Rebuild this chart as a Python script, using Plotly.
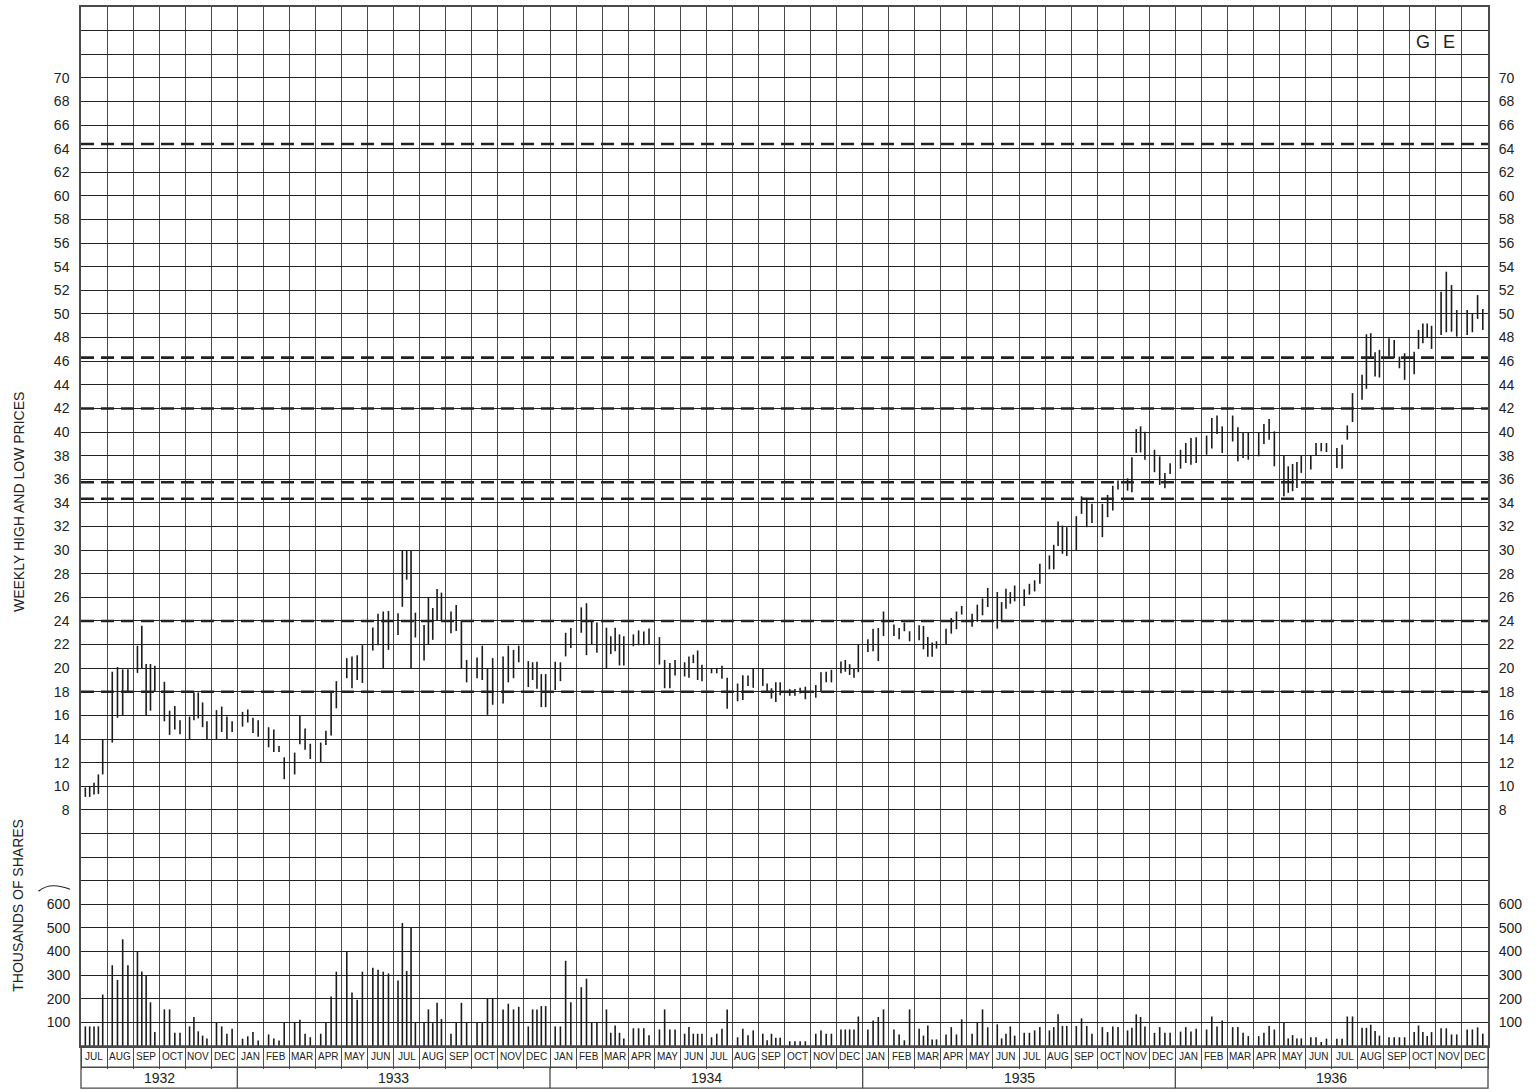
import plotly.graph_objects as go

# ---------------- data ----------------
MONTH_NAMES = ["JAN", "FEB", "MAR", "APR", "MAY", "JUN",
               "JUL", "AUG", "SEP", "OCT", "NOV", "DEC"]
MONTHS = MONTH_NAMES[6:] + MONTH_NAMES * 4          # Jul 1932 .. Dec 1936
YEARS = ["1932", "1933", "1934", "1935", "1936"]
YEAR_MONTHS = [6, 12, 12, 12, 12]
TICKER = ["G", "E"]
LEVELS = [64.4, 46.3, 42.0, 35.75, 34.35, 24.0, 18.0]   # dashed reference lines
PRICE_TICKS = list(range(8, 71, 2))
VOLUME_TICKS = [100, 200, 300, 400, 500, 600]

WEEKS_1932 = [5, 4, 5, 4, 5, 4]
HIGH_1932 = [9.9, 10.0, 10.3, 11.0, 14.0,
             19.7, 20.1, 19.9, 19.9,
             21.9, 23.6, 20.35, 20.35, 20.2,
             18.85, 16.4, 16.8, 15.6,
             15.9, 17.95, 17.95, 17.1, 15.5,
             16.45, 16.75, 15.9, 15.5]
LOW_1932 = [9.1, 9.1, 9.3, 9.35, 11.0,
            13.7, 15.8, 16.0, 17.9,
            19.6, 20.0, 16.0, 16.4, 18.0,
            15.5, 14.35, 14.8, 14.4,
            14.0, 15.6, 15.75, 15.0, 14.0,
            14.0, 14.6, 14.0, 14.6]
VOL_1932 = [83, 83, 83, 83, 218,
            342, 280, 452, 342,
            401, 315, 297, 185, 59,
            155, 155, 56, 56,
            83, 123, 62, 44, 32,
            99, 83, 52, 73]

WEEKS_1933 = [4, 4, 4, 4, 4, 4, 5, 5, 4, 4, 4, 5]
HIGH_1933 = [16.3, 16.5, 15.8, 15.6,
             15.0, 14.8, 13.4, 12.45,
             12.85, 15.95, 14.9, 13.6,
             13.7, 14.7, 18.0, 18.9,
             20.85, 21.0, 21.1, 21.95,
             23.45, 24.6, 24.8, 24.85,
             24.65, 30.0, 30.0, 30.0, 24.7,
             23.65, 26.0, 25.1, 26.7, 26.4,
             24.8, 25.35, 24.0, 20.7,
             20.9, 21.9, 20.0, 20.85,
             21.0, 21.9, 21.55, 21.9,
             20.6, 20.5, 20.55, 19.5, 19.5]
LOW_1933 = [15.05, 15.4, 14.5, 14.2,
            13.3, 12.9, 12.9, 10.6,
            11.0, 13.55, 13.1, 12.3,
            12.0, 13.5, 14.3, 16.6,
            19.15, 18.3, 19.0, 18.75,
            21.5, 21.95, 20.0, 21.55,
            22.8, 25.2, 27.5, 19.95, 22.6,
            20.65, 21.97, 22.4, 24.0, 24.0,
            22.96, 23.15, 20.0, 18.8,
            19.15, 19.0, 16.05, 16.9,
            17.0, 18.8, 19.15, 20.5,
            18.4, 19.0, 18.25, 16.7, 16.7]
VOL_1933 = [31, 41, 59, 23,
            49, 32, 23, 101,
            99, 111, 52, 37,
            52, 97, 210, 315,
            401, 227, 196, 315,
            331, 323, 315, 307,
            277, 521, 318, 501, 101,
            97, 155, 97, 183, 114,
            52, 101, 183, 101,
            97, 97, 200, 200,
            155, 179, 155, 166,
            83, 155, 155, 169, 169]

WEEKS_1934 = [4, 4, 5, 4, 4, 5, 4, 4, 5, 4, 4, 5]
HIGH_1934 = [20.55, 20.5, 23.0, 23.4,
             25.15, 25.5, 24.0, 23.86,
             23.43, 22.7, 23.43, 22.86, 22.7,
             22.86, 23.2, 23.1, 23.37,
             22.63, 20.7, 20.43, 20.7,
             20.5, 21.0, 21.14, 21.5, 20.3,
             20.0, 20.0, 20.2, 19.2,
             18.7, 19.4, 19.37, 19.94,
             19.94, 18.7, 18.3, 18.8, 18.8,
             18.23, 18.23, 18.34, 18.43,
             18.57, 19.66, 19.7, 19.86,
             20.57, 20.7, 20.34, 19.94, 22.0]
LOW_1934 = [18.15, 18.9, 21.0, 21.7,
            23.0, 21.1, 22.0, 21.3,
            20.0, 21.2, 21.43, 20.23, 20.23,
            21.86, 21.94, 21.94, 22.0,
            20.3, 18.3, 18.3, 19.37,
            19.3, 19.2, 20.43, 19.0, 18.9,
            19.57, 19.57, 19.1, 16.57,
            17.2, 17.3, 18.5, 18.34,
            18.5, 18.0, 17.43, 17.14, 17.7,
            17.66, 17.66, 17.86, 17.37,
            17.5, 18.06, 18.8, 18.8,
            19.57, 19.7, 19.43, 19.2, 19.66]
VOL_1934 = [83, 83, 361, 185,
            249, 285, 101, 101,
            155, 56, 87, 56, 32,
            75, 75, 75, 46,
            70, 155, 70, 70,
            52, 80, 52, 52, 52,
            37, 52, 73, 155,
            37, 73, 46, 66,
            52, 24, 52, 35, 35,
            20, 20, 20, 20,
            52, 66, 52, 52,
            70, 70, 70, 70, 125]

WEEKS_1935 = [4, 4, 5, 4, 4, 5, 4, 5, 4, 4, 5, 4]
HIGH_1935 = [22.45, 23.35, 23.4, 24.8,
             23.7, 23.4, 23.86, 23.13,
             23.63, 23.58, 22.65, 22.17, 22.28,
             23.35, 24.25, 24.8, 25.27,
             24.6, 25.38, 25.9, 26.8,
             26.45, 25.6, 26.73, 26.45, 27.0,
             26.68, 27.15, 27.44, 28.85,
             29.55, 30.45, 32.42, 32.08, 31.94,
             32.87, 34.56, 34.34, 33.92,
             33.92, 34.68, 35.46, 35.89,
             36.08, 37.86, 40.25, 40.48, 40.03,
             38.5, 37.94, 36.54, 37.35]
LOW_1935 = [21.38, 21.44, 20.6, 22.73,
            22.73, 22.45, 23.13, 22.28,
            22.37, 21.6, 20.96, 20.96, 21.66,
            22.0, 22.93, 23.3, 24.54,
            23.5, 23.92, 24.48, 25.18,
            23.35, 23.9, 25.04, 25.46, 25.66,
            25.27, 26.23, 26.5, 27.15,
            28.37, 28.37, 30.34, 29.69, 29.5,
            29.97, 33.07, 31.94, 32.3,
            31.1, 32.79, 33.35, 35.13,
            35.04, 34.9, 38.23, 38.28, 37.66,
            36.6, 35.52, 35.24, 36.45]
VOL_1935 = [70, 108, 123, 155,
            70, 49, 24, 155,
            73, 44, 87, 28, 28,
            49, 80, 49, 113,
            52, 101, 155, 79,
            92, 32, 52, 83, 44,
            56, 56, 66, 80,
            66, 80, 134, 85, 85,
            85, 117, 85, 52,
            80, 59, 83, 80,
            66, 77, 134, 123, 83,
            56, 80, 56, 56]

WEEKS_1936 = [4, 4, 4, 4, 5, 4, 4, 5, 4, 5, 4, 4]
HIGH_1936 = [38.5, 39.07, 39.5, 39.55,
             39.7, 41.18, 41.4, 40.48,
             41.4, 40.4, 40.0, 40.0,
             40.0, 40.68, 41.1, 40.06,
             38.03, 37.1, 37.3, 37.46, 38.03,
             38.03, 39.07, 39.07, 39.07,
             38.65, 38.93, 40.56, 43.3,
             44.85, 48.28, 48.37, 46.76, 46.96,
             47.94, 47.8, 46.39, 46.68,
             46.8, 48.65, 49.2, 49.2, 49.0,
             51.89, 53.58, 52.45, 50.34,
             50.34, 50.06, 51.6, 50.42]
LOW_1936 = [36.9, 37.38, 37.24, 37.38,
            38.08, 38.6, 39.83, 38.23,
            39.2, 37.52, 37.8, 37.66,
            37.94, 38.99, 39.35, 37.1,
            34.56, 34.85, 34.99, 35.27, 36.54,
            36.82, 38.03, 38.37, 38.31,
            36.96, 36.9, 39.35, 40.85,
            42.73, 43.66, 46.3, 44.7, 44.62,
            46.39, 46.25, 45.4, 44.42,
            44.9, 47.04, 47.52, 48.0, 47.04,
            48.23, 48.45, 48.5, 48.08,
            48.23, 48.45, 49.58, 48.65]
VOL_1936 = [61, 80, 61, 73,
            70, 125, 83, 108,
            80, 80, 56, 42,
            42, 56, 85, 70,
            101, 32, 46, 32, 32,
            37, 37, 17, 31,
            31, 31, 125, 125,
            77, 77, 90, 63, 44,
            37, 37, 37, 37,
            59, 87, 59, 42, 59,
            75, 75, 49, 49,
            70, 70, 79, 52]

# ---------------- assemble ----------------
weeks = WEEKS_1932 + WEEKS_1933 + WEEKS_1934 + WEEKS_1935 + WEEKS_1936
highs = HIGH_1932 + HIGH_1933 + HIGH_1934 + HIGH_1935 + HIGH_1936
lows = LOW_1932 + LOW_1933 + LOW_1934 + LOW_1935 + LOW_1936
vols = VOL_1932 + VOL_1933 + VOL_1934 + VOL_1935 + VOL_1936

xpos = []
for m, n in enumerate(weeks):
    for k in range(n):
        xpos.append(m + (k + 1) / (n + 1))

px_, py_ = [], []
vx_, vy_ = [], []
for x, h, l, v in zip(xpos, highs, lows, vols):
    px_ += [x, x, None]
    py_ += [l, h, None]
    vx_ += [x, x, None]
    vy_ += [0, v, None]

N_MONTHS = len(MONTHS)
W, H = 1540, 1092
ML, MR, MT, MB = 81, 52, 5, 46
PLOT_W = W - ML - MR
PLOT_H = H - MT - MB


def ppy(pix):
    return (H - MB - pix) / PLOT_H


def ppx(pix):
    return (pix - ML) / PLOT_W


FONT = "Liberation Sans, Arial, sans-serif"
INK = "#222222"
GRID = "#4a4a4a"
BAR = "#1c1c1c"

fig = go.Figure()
fig.add_trace(go.Scatter(x=px_, y=py_, mode="lines", yaxis="y",
                         line=dict(color=BAR, width=1.6), hoverinfo="skip",
                         showlegend=False))
fig.add_trace(go.Scatter(x=vx_, y=vy_, mode="lines", yaxis="y2",
                         line=dict(color=BAR, width=1.6), hoverinfo="skip",
                         showlegend=False))

price_grid = list(range(-12, 77, 2))
price_text = [str(v) if v in PRICE_TICKS else "" for v in price_grid]

shapes = []
for lv in LEVELS:
    shapes.append(dict(type="line", xref="paper", x0=0, x1=1, yref="y", y0=lv, y1=lv,
                       line=dict(color=INK, width=2.6, dash="13px,7px"), layer="above"))

# label rows below the plot
y_mrow = ppy(1067.3)
y_yrow = ppy(1088.3)
shapes.append(dict(type="rect", xref="paper", x0=0, x1=1, yref="paper", y0=y_yrow, y1=0,
                   line=dict(color=GRID, width=1.3)))
shapes.append(dict(type="line", xref="paper", x0=0, x1=1, yref="paper", y0=y_mrow, y1=y_mrow,
                   line=dict(color=GRID, width=1.3)))
annotations = []
start = 0
for yr, nm in zip(YEARS, YEAR_MONTHS):
    if start > 0:
        shapes.append(dict(type="line", xref="x", x0=start, x1=start, yref="paper",
                           y0=y_yrow, y1=y_mrow, line=dict(color=GRID, width=1.3)))
    annotations.append(dict(x=start + nm / 2, xref="x", y=ppy(1078.5), yref="paper",
                            text=yr, showarrow=False, yanchor="middle",
                            font=dict(family=FONT, size=14, color=INK)))
    start += nm

for m, name in enumerate(MONTHS):
    annotations.append(dict(x=m + 0.5, xref="x", y=ppy(1056.5), yref="paper",
                            text=name, showarrow=False, yanchor="middle",
                            font=dict(family=FONT, size=10, color=INK)))

for i, letter in enumerate(TICKER):
    annotations.append(dict(x=N_MONTHS - 2.5 + i, xref="x", y=73, yref="y",
                            text=letter, showarrow=False, yanchor="middle",
                            font=dict(family=FONT, size=18, color=INK)))

annotations.append(dict(x=ppx(18.5), y=ppy(501.5), xref="paper", yref="paper",
                        text="WEEKLY HIGH AND LOW PRICES", textangle=-90, showarrow=False,
                        xanchor="center", yanchor="middle",
                        font=dict(family=FONT, size=14, color=INK)))
annotations.append(dict(x=ppx(18.5), y=ppy(905), xref="paper", yref="paper",
                        text="THOUSANDS OF SHARES", textangle=-90, showarrow=False,
                        xanchor="center", yanchor="middle",
                        font=dict(family=FONT, size=14, color=INK)))

# small curved mark next to the volume scale
shapes.append(dict(type="path", xref="paper", yref="paper",
                   path=f"M {ppx(38.5)},{ppy(891)} Q {ppx(50)},{ppy(881)} {ppx(70)},{ppy(889)}",
                   line=dict(color=INK, width=1.2)))

tickfont = dict(family=FONT, size=14, color=INK)
fig.update_layout(
    width=W, height=H,
    margin=dict(l=ML, r=MR, t=MT, b=MB),
    paper_bgcolor="white", plot_bgcolor="white",
    showlegend=False,
    xaxis=dict(range=[0, N_MONTHS], tickvals=list(range(N_MONTHS + 1)),
               showticklabels=False, ticks="outside", ticklen=21,
               tickcolor=GRID, tickwidth=1.3,
               showgrid=True, gridcolor=GRID, gridwidth=1.3,
               showline=True, mirror=True, linecolor=GRID, linewidth=1.5,
               zeroline=False, fixedrange=True),
    yaxis=dict(range=[-12, 76], tickvals=price_grid, ticktext=price_text,
               showgrid=True, gridcolor=INK, gridwidth=1.1,
               ticks="outside", ticklen=7, tickcolor="rgba(0,0,0,0)",
               tickfont=tickfont, showline=True, mirror=True,
               linecolor=GRID, linewidth=1.5, zeroline=False),
    yaxis3=dict(overlaying="y", side="right", matches="y",
                tickvals=price_grid, ticktext=price_text, showgrid=False,
                ticks="outside", ticklen=7, tickcolor="rgba(0,0,0,0)",
                tickfont=tickfont, zeroline=False, showline=False),
    yaxis2=dict(overlaying="y", side="left", range=[0, 4400],
                tickvals=VOLUME_TICKS, ticktext=[str(v) for v in VOLUME_TICKS],
                showgrid=False, ticks="outside", ticklen=7,
                tickcolor="rgba(0,0,0,0)", tickfont=tickfont,
                zeroline=False, showline=False),
    yaxis4=dict(overlaying="y", side="right", matches="y2",
                tickvals=VOLUME_TICKS, ticktext=[str(v) for v in VOLUME_TICKS],
                showgrid=False, ticks="outside", ticklen=7,
                tickcolor="rgba(0,0,0,0)", tickfont=tickfont,
                zeroline=False, showline=False),
    shapes=shapes,
    annotations=annotations,
)
# invisible traces so the right-hand axes are drawn
fig.add_trace(go.Scatter(x=[None], y=[None], yaxis="y3", showlegend=False, hoverinfo="skip"))
fig.add_trace(go.Scatter(x=[None], y=[None], yaxis="y4", showlegend=False, hoverinfo="skip"))

fig.write_html("out.html", config={"displayModeBar": False},
               post_script="document.body.style.margin='0';document.body.style.overflow='hidden';")
